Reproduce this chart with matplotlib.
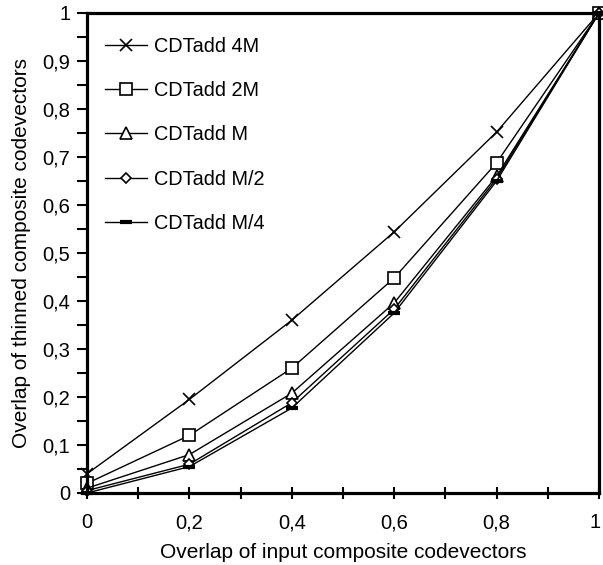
import matplotlib
matplotlib.use("Agg")
import matplotlib.pyplot as plt
from matplotlib.ticker import MultipleLocator, FuncFormatter

plt.rcParams['font.family'] = ['Liberation Sans', 'DejaVu Sans']

x = [0, 0.2, 0.4, 0.6, 0.8, 1.0]
y_4M = [0.04, 0.195, 0.36, 0.544, 0.752, 1.0]
y_2M = [0.02, 0.12, 0.26, 0.448, 0.688, 1.0]
y_M = [0.01, 0.08, 0.208, 0.396, 0.66, 1.0]
y_M2 = [0.005, 0.06, 0.188, 0.383, 0.655, 1.0]
y_M4 = [0.0, 0.055, 0.177, 0.375, 0.65, 1.0]
labels = ['CDTadd 4M', 'CDTadd 2M', 'CDTadd M', 'CDTadd M/2', 'CDTadd M/4']

fig = plt.figure(figsize=(6.03, 5.65), dpi=100)
ax = fig.add_axes([87/603, 1-493/565, 512/603, 480/565])

lw = 1.0
ax.plot(x, y_4M, color='black', lw=lw, marker='x', ms=8, mew=1.2, label=labels[0], clip_on=False, zorder=5)
ax.plot(x, y_2M, color='black', lw=lw, marker='s', ms=8, mfc='white', mew=1.2, label=labels[1], clip_on=False, zorder=5)
ax.plot(x, y_M, color='black', lw=lw, marker='^', ms=8, mfc='white', mew=1.2, label=labels[2], clip_on=False, zorder=5)
ax.plot(x, y_M2, color='black', lw=lw, marker='D', ms=5.5, mfc='white', mew=1.2, label=labels[3], clip_on=False, zorder=5)
ax.plot(x, y_M4, color='black', lw=lw, marker='_', ms=9, mew=3, label=labels[4], clip_on=False, zorder=5)

ax.set_xlim(0, 1)
ax.set_ylim(0, 1)
for s in ax.spines.values():
    s.set_linewidth(2.3)
    s.set_zorder(6)

def comma(v):
    return ('%g' % round(v, 2)).replace('.', ',')

xfmt = FuncFormatter(lambda v, p: '' if abs(v - 1) < 1e-9 else comma(v))
yfmt = FuncFormatter(lambda v, p: comma(v))
ax.xaxis.set_major_locator(MultipleLocator(0.2))
ax.xaxis.set_minor_locator(MultipleLocator(0.1))
ax.yaxis.set_major_locator(MultipleLocator(0.1))
ax.yaxis.set_minor_locator(MultipleLocator(0.05))
ax.xaxis.set_major_formatter(xfmt)
ax.yaxis.set_major_formatter(yfmt)
ax.tick_params(axis='x', which='both', direction='inout', length=9, width=1.5, labelsize=14.5, pad=10)
ax.tick_params(axis='y', which='both', direction='out', length=7, width=1.5, labelsize=14.5, pad=5)

# last x tick label, right-aligned so it stays inside the figure
ax.annotate(comma(1.0), xy=(1, 0), xycoords=('data', 'axes fraction'), xytext=(1.5, -14.5),
            textcoords='offset points', ha='right', va='top', fontsize=14.5)

ax.set_xlabel('Overlap of input composite codevectors', fontsize=15, labelpad=8)
ax.set_ylabel('Overlap of thinned composite codevectors', fontsize=15, labelpad=8)

leg = ax.legend(loc='upper left', bbox_to_anchor=(105/603, 1-37/565), bbox_transform=fig.transFigure,
                frameon=False, fontsize=14.3, handlelength=2.1, handletextpad=0.35,
                labelspacing=1.27, borderaxespad=0, borderpad=0)

fig.savefig('out.png', dpi=100)
